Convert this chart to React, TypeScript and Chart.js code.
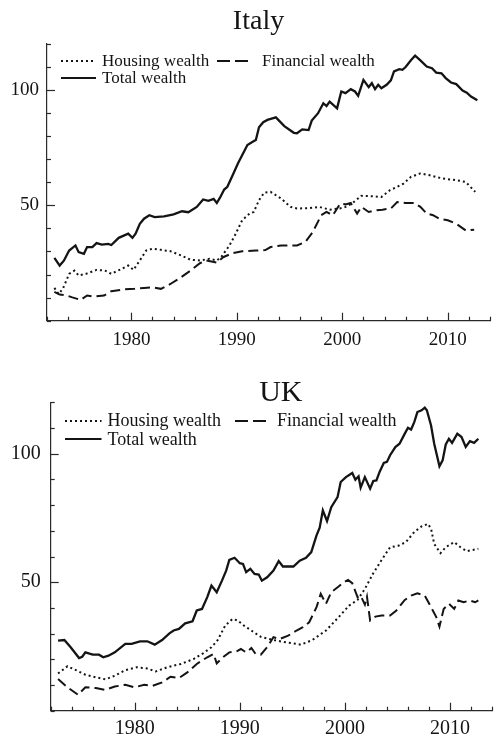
import React, { useEffect, useRef } from "react";
import { Chart, registerables } from "chart.js";

Chart.register(...registerables);

const FONT = '"Liberation Serif", "Times New Roman", Times, serif';
const INK = "#141414";
const AXIS = "#2a2a2a";

// ---- tick labels ----
const xTickYears = [1980, 1990, 2000, 2010];
const yTickLabels = [50, 100];

// ---- Italy ----
const italyTotalYears = [1972.7, 1973.2, 1973.6, 1974.1, 1974.7, 1975.0, 1975.5, 1975.8, 1976.3, 1976.7, 1977.2, 1977.8, 1978.1, 1978.8, 1979.7, 1980.1, 1980.4, 1980.8, 1981.2, 1981.7, 1982.2, 1983.1, 1984.0, 1984.8, 1985.4, 1986.2, 1986.8, 1987.3, 1987.8, 1988.1, 1988.4, 1988.8, 1989.1, 1989.6, 1990.1, 1990.5, 1991.0, 1991.5, 1991.8, 1992.1, 1992.5, 1992.9, 1993.7, 1994.5, 1995.4, 1995.7, 1996.2, 1996.8, 1997.1, 1997.7, 1998.2, 1998.5, 1998.8, 1999.5, 1999.9, 2000.3, 2000.8, 2001.2, 2001.5, 2002.0, 2002.5, 2002.8, 2003.1, 2003.4, 2003.7, 2004.2, 2004.6, 2004.9, 2005.4, 2005.7, 2006.0, 2006.5, 2006.9, 2007.4, 2008.0, 2008.5, 2008.9, 2009.4, 2009.8, 2010.3, 2010.8, 2011.4, 2011.8, 2012.2, 2012.8];
const italyTotalValues = [27.2, 23.9, 26, 30.4, 32.6, 29.7, 29, 31.9, 31.9, 33.6, 33, 33.3, 32.8, 35.9, 37.7, 35.9, 37.7, 42, 44.2, 45.7, 44.9, 45.2, 46.1, 47.4, 47, 49.3, 52.5, 51.9, 52.8, 51, 53.3, 56.8, 58, 63, 68.1, 71.7, 76.1, 77.5, 78.3, 83.8, 86, 87, 88.1, 84.3, 81.4, 81.2, 82.9, 82.6, 86.7, 89.9, 94.2, 93, 94.9, 92, 99.3, 98.6, 100.3, 99.3, 97.4, 104.3, 101.2, 102.9, 100.3, 102.2, 100.7, 102.2, 104.1, 108, 109, 108.7, 109.9, 112.8, 114.8, 112.8, 110.1, 109.4, 107.5, 107.2, 105.1, 103.2, 102.5, 99.7, 98.8, 97.1, 95.5];

const italyHousingYears = [1972.7, 1973.1, 1973.5, 1974.1, 1974.6, 1975.0, 1975.7, 1976.7, 1977.5, 1978.1, 1979.1, 1979.7, 1980.2, 1980.8, 1981.4, 1982.0, 1982.8, 1983.7, 1984.7, 1985.6, 1986.5, 1987.4, 1988.1, 1988.5, 1989.3, 1989.9, 1990.5, 1991.2, 1991.6, 1992.1, 1992.6, 1993.2, 1994.2, 1995.1, 1995.7, 1996.9, 1997.8, 1998.8, 1999.7, 2000.3, 2000.9, 2001.8, 2002.8, 2003.7, 2004.5, 2005.2, 2005.8, 2006.5, 2007.4, 2008.3, 2009.5, 2010.8, 2011.7, 2012.6];
const italyHousingValues = [14.2, 11.6, 13.8, 20.3, 21.7, 19.6, 20.3, 22, 21.7, 20.3, 22.5, 23.9, 22, 26.1, 30.4, 31.2, 30.7, 30.1, 28.3, 26.4, 26.1, 26.8, 26.1, 27.5, 32.6, 37.7, 43.5, 46.4, 47.1, 52.2, 55.5, 55.8, 52.9, 49.3, 48.6, 48.8, 49.3, 48.1, 48.6, 49.3, 50.7, 54.1, 53.9, 53.6, 56.5, 58, 59.4, 62.3, 63.8, 63, 61.6, 60.9, 60.1, 55.8];

const italyFinancialYears = [1972.7, 1973.2, 1973.8, 1974.4, 1975.2, 1975.8, 1976.4, 1977.4, 1978.1, 1979.4, 1980.3, 1981.2, 1982.0, 1982.8, 1983.7, 1984.7, 1985.6, 1986.5, 1987.1, 1988.1, 1988.7, 1989.6, 1990.5, 1991.8, 1992.7, 1993.2, 1994.2, 1995.7, 1996.5, 1997.2, 1998.0, 1998.5, 1999.1, 1999.8, 2000.3, 2000.8, 2001.4, 2001.8, 2002.5, 2003.1, 2003.8, 2004.6, 2005.2, 2006.0, 2006.8, 2007.4, 2008.0, 2008.6, 2009.2, 2010.0, 2010.8, 2011.7, 2012.5];
const italyFinancialValues = [12.5, 11.3, 11, 10.1, 9, 10.9, 10.4, 10.9, 12.8, 13.6, 13.8, 14.2, 14.5, 13.8, 15.9, 18.8, 21.7, 24.9, 26.1, 25.2, 27.5, 29.3, 30.1, 30.4, 30.6, 31.9, 32.6, 32.6, 34.1, 38.4, 45.7, 47.1, 45.7, 50.7, 50.4, 51, 46.4, 49.3, 47.1, 47.8, 48.1, 48.6, 51.4, 51, 51, 49.3, 46.4, 45.7, 44.2, 43.5, 42, 39.1, 39.4];

// ---- UK ----
const ukTotalYears = [1972.7, 1973.3, 1973.9, 1974.7, 1975.0, 1975.3, 1976.0, 1976.6, 1977.0, 1977.5, 1978.1, 1979.1, 1979.7, 1980.5, 1981.2, 1981.9, 1982.6, 1983.3, 1983.7, 1984.2, 1984.8, 1985.5, 1985.9, 1986.4, 1986.9, 1987.3, 1987.8, 1988.3, 1988.7, 1989.0, 1989.5, 1990.0, 1990.3, 1990.6, 1991.0, 1991.4, 1991.8, 1992.1, 1992.6, 1993.2, 1993.7, 1994.1, 1995.1, 1995.7, 1996.3, 1996.8, 1997.3, 1997.6, 1997.9, 1998.3, 1998.7, 1999.3, 1999.6, 2000.1, 2000.7, 2001.0, 2001.3, 2001.5, 2001.9, 2002.4, 2002.7, 2003.0, 2003.3, 2003.7, 2004.0, 2004.3, 2004.8, 2005.2, 2005.7, 2006.0, 2006.3, 2006.6, 2006.9, 2007.3, 2007.6, 2007.8, 2008.2, 2008.5, 2009.0, 2009.3, 2009.6, 2009.9, 2010.2, 2010.7, 2011.1, 2011.5, 2011.9, 2012.3, 2012.7];
const ukTotalValues = [27.3, 27.5, 24.7, 20.5, 21, 22.7, 21.8, 21.8, 20.8, 21.4, 22.7, 26, 26, 27, 27, 25.7, 27.5, 30.1, 31.2, 31.8, 34, 34.8, 39, 39.6, 44.2, 48.7, 46.1, 50.6, 54.5, 58.7, 59.5, 57.4, 57.1, 53.9, 55.2, 53.2, 53, 50.6, 51.9, 54.5, 58.2, 56.1, 56.1, 58.4, 59.5, 61.7, 68.2, 71.2, 77.9, 73.8, 79.2, 83.1, 89, 90.9, 92.5, 89.9, 91.2, 86.8, 90.9, 86.4, 89.4, 89.6, 92.9, 96.4, 96.8, 99.4, 102.6, 103.9, 107.8, 110.1, 109.4, 112.3, 116.2, 116.9, 117.9, 116.9, 111, 103.9, 95.1, 97.4, 103.6, 105.8, 104.2, 107.8, 106.5, 102.6, 104.9, 104.2, 105.8];

const ukHousingYears = [1972.7, 1973.6, 1974.4, 1975.3, 1976.3, 1977.2, 1978.1, 1979.1, 1980.2, 1981.1, 1982.0, 1983.1, 1984.4, 1985.6, 1986.5, 1987.3, 1987.9, 1988.6, 1989.3, 1989.8, 1990.4, 1991.2, 1992.0, 1993.2, 1994.4, 1995.8, 1996.9, 1998.2, 1999.4, 2000.4, 2001.2, 2001.9, 2002.7, 2003.5, 2004.3, 2005.1, 2005.8, 2006.6, 2007.3, 2007.9, 2008.2, 2008.5, 2009.1, 2009.6, 2010.4, 2011.0, 2011.6, 2012.7];
const ukHousingValues = [14.5, 17.3, 15.8, 14, 13, 12.2, 13.6, 15.8, 16.9, 16.5, 15.3, 16.9, 18.2, 20.1, 22.3, 24.7, 27.5, 33.1, 35.7, 35.1, 33.1, 30.9, 28.7, 27.5, 26.6, 25.7, 27.5, 31.2, 36.4, 40.9, 43.1, 47.4, 53.5, 58.7, 63.6, 64.2, 65.6, 69.5, 71.7, 72.7, 70.8, 64.9, 61.3, 63.6, 65.6, 63.6, 62.1, 63];

const ukFinancialYears = [1972.7, 1973.6, 1974.6, 1975.3, 1976.3, 1977.2, 1978.1, 1979.1, 1980.0, 1980.9, 1981.7, 1982.6, 1983.4, 1984.2, 1985.0, 1985.9, 1986.9, 1987.5, 1987.8, 1988.4, 1989.0, 1989.7, 1990.1, 1990.6, 1991.1, 1991.5, 1992.0, 1992.6, 1993.2, 1993.8, 1994.6, 1995.4, 1996.0, 1996.6, 1997.3, 1997.7, 1998.2, 1998.7, 1999.4, 1999.9, 2000.3, 2000.7, 2001.2, 2001.5, 2001.9, 2002.1, 2002.4, 2002.9, 2003.5, 2004.3, 2004.9, 2005.7, 2006.3, 2006.9, 2007.6, 2008.2, 2008.7, 2009.0, 2009.4, 2009.9, 2010.4, 2010.8, 2011.3, 2011.9, 2012.4, 2012.7];
const ukFinancialValues = [12.3, 9.1, 6.2, 9.1, 8.8, 8.1, 9.4, 10.1, 9.1, 10.1, 9.7, 11, 13.2, 12.7, 14.9, 18.2, 20.8, 22.1, 18.4, 20.8, 22.7, 23.1, 24, 22.7, 24.4, 22.1, 21.8, 24.7, 28.6, 27.9, 29.2, 31.2, 32.5, 34.4, 40.3, 45.5, 41.6, 46.1, 48.3, 50, 50.9, 49.6, 44.2, 44.8, 41.3, 44.4, 35.1, 36.6, 37, 37, 39, 43.1, 44.8, 45.7, 44.8, 40.3, 36.4, 32.7, 39.6, 41.6, 39.6, 42.9, 42.2, 42.9, 42.2, 42.9];

const seriesLabels = ["Housing wealth", "Financial wealth", "Total wealth"];

const toPoints = (xs: number[], ys: number[]) => xs.map((x, i) => ({ x, y: ys[i] }));

type LegendPos = { x0: number; x1: number; ly: number; tx: number; ty: number };

type PanelCfg = {
  title: string;
  titleSize: number;
  titleX: number;
  titleY: number;
  padTop: number;
  yAxisW: number;
  xAxisH: number;
  tickSize: number;
  yPad: number;
  xPad: number;
  legendSize: number;
  legend: LegendPos[];
  housing: { x: number; y: number }[];
  financial: { x: number; y: number }[];
  total: { x: number; y: number }[];
};

const DOT = [2, 3];
const DASH = [10, 5];
const LEGEND_DASH = [13, 5];

const decorPlugin = {
  id: "decor",
  afterDraw(chart: any, _args: any, opts: any) {
    const ctx = chart.ctx as CanvasRenderingContext2D;
    const area = chart.chartArea;
    const xs = chart.scales.x;
    const ys = chart.scales.y;
    ctx.save();
    ctx.strokeStyle = AXIS;
    ctx.lineWidth = 1.2;
    ctx.setLineDash([]);
    ys.ticks.forEach((t: any) => {
      const y = Math.round(ys.getPixelForValue(t.value)) + 0.5;
      const len = yTickLabels.includes(t.value) ? 8 : 4;
      ctx.beginPath();
      ctx.moveTo(area.left, y);
      ctx.lineTo(area.left + len, y);
      ctx.stroke();
    });
    xs.ticks.forEach((t: any) => {
      const x = Math.round(xs.getPixelForValue(t.value)) + 0.5;
      const len = xTickYears.includes(t.value) ? 8 : 4;
      ctx.beginPath();
      ctx.moveTo(x, area.bottom);
      ctx.lineTo(x, area.bottom - len);
      ctx.stroke();
    });

    // title
    ctx.fillStyle = INK;
    ctx.font = `${opts.titleSize}px ${FONT}`;
    ctx.textAlign = "center";
    ctx.textBaseline = "alphabetic";
    ctx.fillText(opts.title, opts.titleX, opts.titleY);

    // legend
    ctx.font = `${opts.legendSize}px ${FONT}`;
    ctx.textAlign = "left";
    const dsets = chart.data.datasets;
    opts.legend.forEach((p: LegendPos, i: number) => {
      const ds = dsets[i];
      ctx.strokeStyle = INK;
      ctx.lineWidth = 2;
      const dash = ds.borderDash && ds.borderDash.length ? (i === 1 ? LEGEND_DASH : ds.borderDash) : [];
      ctx.setLineDash(dash);
      ctx.beginPath();
      ctx.moveTo(p.x0, p.ly);
      ctx.lineTo(p.x1, p.ly);
      ctx.stroke();
      ctx.setLineDash([]);
      ctx.fillText(ds.label, p.tx, p.ty);
    });
    ctx.restore();
  },
};

function Panel({ cfg }: { cfg: PanelCfg }) {
  const ref = useRef<HTMLCanvasElement | null>(null);
  useEffect(() => {
    if (!ref.current) return;
    const tickFont = { family: FONT, size: cfg.tickSize };
    const chart = new Chart(ref.current, {
      type: "line",
      data: {
        datasets: [
          { label: seriesLabels[0], data: cfg.housing, borderColor: INK, borderWidth: 2, borderDash: DOT, pointRadius: 0, fill: false, tension: 0 },
          { label: seriesLabels[1], data: cfg.financial, borderColor: INK, borderWidth: 2, borderDash: DASH, pointRadius: 0, fill: false, tension: 0 },
          { label: seriesLabels[2], data: cfg.total, borderColor: INK, borderWidth: 2.3, pointRadius: 0, fill: false, tension: 0 },
        ],
      },
      options: {
        animation: false,
        responsive: false,
        maintainAspectRatio: false,
        layout: { padding: { top: cfg.padTop, left: 0, right: 0, bottom: 0 } },
        plugins: {
          legend: { display: false },
          title: { display: false },
          tooltip: { enabled: false },
          decor: {
            title: cfg.title,
            titleSize: cfg.titleSize,
            titleX: cfg.titleX,
            titleY: cfg.titleY,
            legendSize: cfg.legendSize,
            legend: cfg.legend,
          },
        } as any,
        scales: {
          x: {
            type: "linear",
            min: 1972,
            max: 2014,
            afterFit: (s: any) => {
              s.height = cfg.xAxisH;
            },
            ticks: {
              stepSize: 2,
              autoSkip: false,
              maxRotation: 0,
              padding: cfg.xPad,
              color: INK,
              font: tickFont,
              callback: (v: any) => (xTickYears.includes(Number(v)) ? String(v) : ""),
            },
            grid: { display: true, drawOnChartArea: false, drawTicks: false },
            border: { display: true, color: AXIS, width: 1.2 },
          },
          y: {
            type: "linear",
            min: 0,
            max: 120,
            afterFit: (s: any) => {
              s.width = cfg.yAxisW;
            },
            ticks: {
              stepSize: 10,
              autoSkip: false,
              padding: cfg.yPad,
              color: INK,
              font: tickFont,
              callback: (v: any) => (yTickLabels.includes(Number(v)) ? String(v) : ""),
            },
            grid: { display: true, drawOnChartArea: false, drawTicks: false },
            border: { display: true, color: AXIS, width: 1.2 },
          },
        },
      },
      plugins: [decorPlugin],
    } as any);
    return () => chart.destroy();
  }, [cfg]);
  return <canvas ref={ref} width={498} height={371} style={{ display: "block", width: 498, height: 371 }} />;
}

const italyCfg: PanelCfg = {
  title: "Italy",
  titleSize: 28,
  titleX: 258.5,
  titleY: 29,
  padTop: 43.7,
  yAxisW: 47,
  xAxisH: 50.3,
  tickSize: 19,
  yPad: 8,
  xPad: 8,
  legendSize: 17,
  legend: [
    { x0: 61, x1: 96, ly: 61, tx: 102, ty: 66 },
    { x0: 217, x1: 248, ly: 61, tx: 262, ty: 66 },
    { x0: 61, x1: 96, ly: 78, tx: 102, ty: 83 },
  ],
  housing: toPoints(italyHousingYears, italyHousingValues),
  financial: toPoints(italyFinancialYears, italyFinancialValues),
  total: toPoints(italyTotalYears, italyTotalValues),
};

const ukCfg: PanelCfg = {
  title: "UK",
  titleSize: 30,
  titleX: 280.8,
  titleY: 30,
  padTop: 31.3,
  yAxisW: 50.7,
  xAxisH: 31.3,
  tickSize: 20,
  yPad: 10,
  xPad: 6,
  legendSize: 18,
  legend: [
    { x0: 65, x1: 101.5, ly: 50, tx: 107.5, ty: 55 },
    { x0: 235, x1: 266.5, ly: 50, tx: 277, ty: 55 },
    { x0: 65, x1: 101.5, ly: 68, tx: 107.5, ty: 73.5 },
  ],
  housing: toPoints(ukHousingYears, ukHousingValues),
  financial: toPoints(ukFinancialYears, ukFinancialValues),
  total: toPoints(ukTotalYears, ukTotalValues),
};

export default function App() {
  return (
    <div style={{ position: "absolute", left: 0, top: 0, width: 498, height: 742, background: "#ffffff" }}>
      <Panel cfg={italyCfg} />
      <Panel cfg={ukCfg} />
    </div>
  );
}
